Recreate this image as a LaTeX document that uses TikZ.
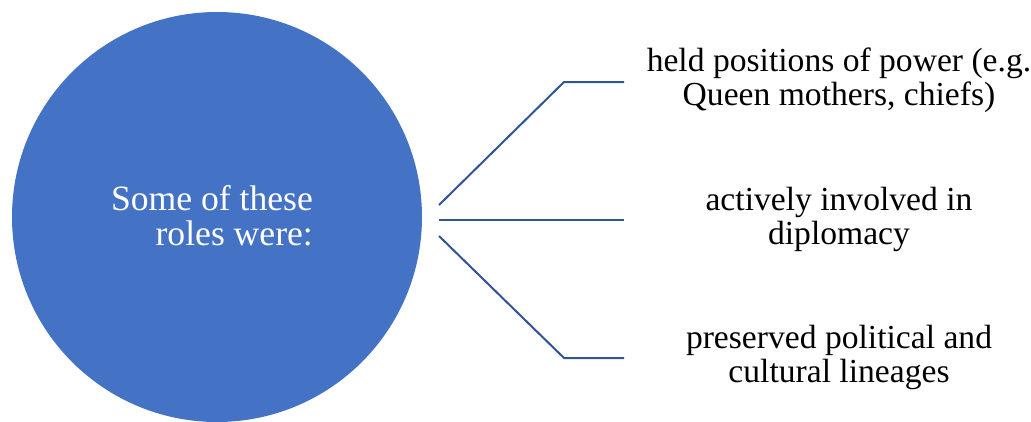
\documentclass[tikz,border=0pt]{standalone}
\usepackage{fontspec}
\setmainfont{Liberation Serif}
\usepackage{tikz}
\usetikzlibrary{positioning,calc}

\definecolor{circblue}{HTML}{4472C4}
\definecolor{lineblue}{HTML}{2F5597}

\tikzset{
    rolecircle/.style = {circle, fill = circblue, draw = none, minimum size = 410pt, inner sep = 0pt},
    roletext/.style = {black, inner sep = 0pt, align = center, font = \fontsize{33.6}{34}\selectfont},
    branch/.style = {lineblue, line width = 2pt}
}

\begin{document}
\begin{tikzpicture}[x = 1pt, y = -1pt]
        % Rahmen
            \useasboundingbox (0, 0) rectangle (1031, 421);
        
        % Kreis
            \node[rolecircle] (roles) at (217, 217) {};
            \node[white, inner sep = 0pt, align = right, anchor = east, font = \fontsize{35.6}{35}\selectfont] (rolesText) at (313, 216) {Some of these\\roles were:};
        
        % Texte
            \node[roletext] (power) at (839, 80) {held positions of power (e.g.\\Queen mothers, chiefs)};
            \node[roletext] (diplomacy) at (839, 219) {actively involved in\\diplomacy};
            \node[roletext] (lineages) at (839, 357) {preserved political and\\cultural lineages};
        
        % Punkte
            \coordinate (startTop) at (439, 205);
            \coordinate (startMid) at (439, 220);
            \coordinate (startBot) at (439, 236);
            \coordinate (bendTop) at (564, 82);
            \coordinate (bendBot) at (564, 358);
            \coordinate (endTop) at (624, 82);
            \coordinate (endMid) at (624, 220);
            \coordinate (endBot) at (624, 358);
        
        % Linien
            \draw[branch] (startTop) -- (bendTop) -- (endTop);
            \draw[branch] (startMid) -- (endMid);
            \draw[branch] (startBot) -- (bendBot) -- (endBot);
    \end{tikzpicture}
\end{document}
